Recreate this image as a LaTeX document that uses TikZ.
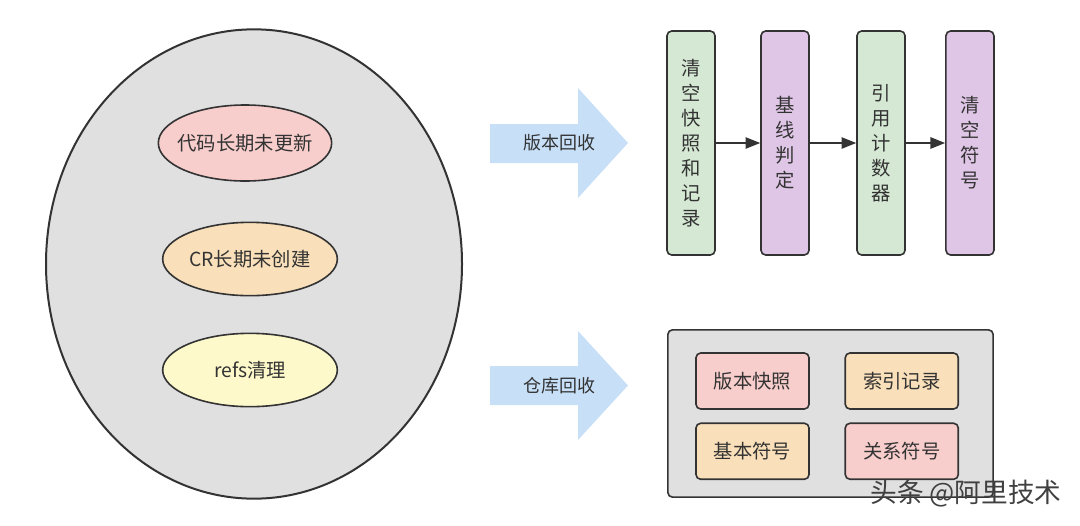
\documentclass[tikz,border=0pt]{standalone}
\usepackage{fontspec}
\setmainfont{Noto Sans CJK SC}
\usepackage{tikz}
\usetikzlibrary{arrows.meta,positioning,shapes.geometric}
\usepackage{xcolor}
\definecolor{edge}{HTML}{333333}
\definecolor{ink}{HTML}{333333}
\definecolor{graybg}{HTML}{E0E0E0}
\definecolor{pinkbg}{HTML}{F8CECC}
\definecolor{orangebg}{HTML}{FAE0BA}
\definecolor{yellowbg}{HTML}{FEF9CB}
\definecolor{greenbg}{HTML}{D5E8D4}
\definecolor{purplebg}{HTML}{E0C6E6}
\definecolor{arrowblue}{HTML}{C7E0F8}

\begin{document}
\begin{tikzpicture}[x=0.75pt,y=-0.75pt,line width=1.2pt]
  \tikzstyle{blob} = [ellipse,draw=edge,inner xsep=-5pt,inner ysep=0pt,text=ink,font=\fontsize{14.5}{17}\selectfont]
  \tikzstyle{column} = [rectangle,rounded corners=3.5pt,draw=edge,minimum width=36pt,minimum height=168pt,inner sep=0pt,align=center,text=ink,font=\fontsize{14.5}{18.75}\selectfont]
  \tikzstyle{tag} = [rectangle,rounded corners=3.5pt,draw=edge,minimum width=84.75pt,minimum height=42pt,inner sep=0pt,text=ink,font=\fontsize{14.5}{17}\selectfont]
  \tikzstyle{flow} = [draw=edge,-{Triangle[length=11pt,width=8.5pt]}]
  \tikzstyle{bigarrow} = [fill=arrowblue]
  \tikzstyle{arrowtext} = [text=ink,font=\fontsize{13.5}{16}\selectfont]
  \useasboundingbox (0,0) rectangle (1080,525);

  % left side
  \node[blob,fill=graybg,line width=1.5pt,minimum width=312pt,minimum height=352pt] (E) at (254,264) {};
  \node[blob,fill=pinkbg,minimum width=130pt,minimum height=57pt]   (A) at (245,143) {代码长期未更新};
  \node[blob,fill=orangebg,minimum width=131pt,minimum height=55pt] (B) at (250,259) {CR长期未创建};
  \node[blob,fill=yellowbg,minimum width=131pt,minimum height=55pt] (C) at (250,370) {refs清理};

  % block arrows
  \fill[bigarrow] (490,124) -- (578,124) -- (578,88) -- (628,143) -- (578,198) -- (578,163) -- (490,163) -- cycle;
  \node[arrowtext] (V) at (559,143) {版本回收};
  \fill[bigarrow] (490,366) -- (578,366) -- (578,331) -- (628,385.5) -- (578,440) -- (578,405) -- (490,405) -- cycle;
  \node[arrowtext] (R) at (559,386) {仓库回收};

  % version chain
  \node[column,fill=greenbg]  (P) at (691,143)       {清\\空\\快\\照\\和\\记\\录};
  \node[column,fill=purplebg] (Q) [right=33.3pt of P] {基\\线\\判\\定};
  \node[column,fill=greenbg]  (S) [right=34.8pt of Q] {引\\用\\计\\数\\器};
  \node[column,fill=purplebg] (T) [right=29.5pt of S] {清\\空\\符\\号};

  \path[flow] (P) -- (Q);
  \path[flow] (Q) -- (S);
  \path[flow] (S) -- (T);

  % repository box
  \node[rectangle,rounded corners=3.5pt,draw=edge,fill=graybg,minimum width=244pt,minimum height=125.5pt] (W) at (830.5,413.5) {};
  \node[tag,fill=pinkbg]   (K1) at (752.5,381)       {版本快照};
  \node[tag,fill=orangebg] (K2) [right=26pt of K1]   {索引记录};
  \node[tag,fill=orangebg] (K3) [below=9.5pt of K1]  {基本符号};
  \node[tag,fill=pinkbg]   (K4) [right=26pt of K3]   {关系符号};

  \node[text=black!75,font=\fontsize{20}{23}\selectfont] (M) at (966,494) {头条 @阿里技术};
\end{tikzpicture}
\end{document}
